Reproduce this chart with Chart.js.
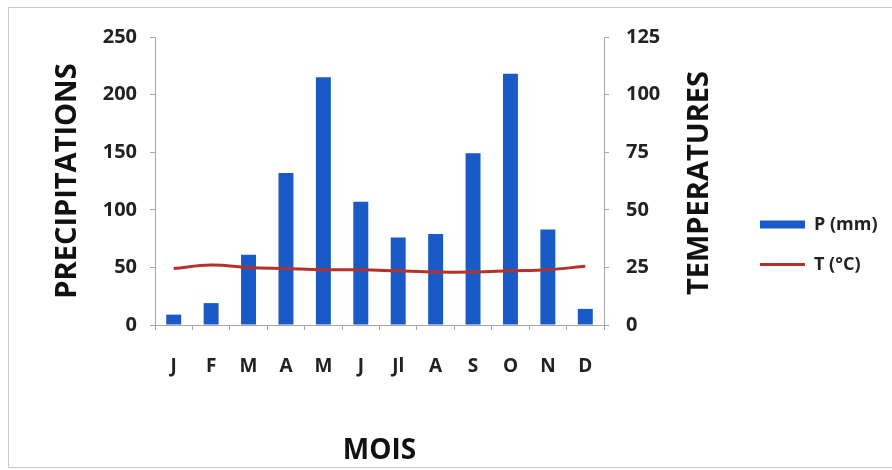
<!DOCTYPE html>
<html>
<head>
<meta charset="utf-8">
<script src="https://cdn.jsdelivr.net/npm/chart.js@4"></script>
<style>
    html, body { margin: 0; background: #fff; overflow: hidden; width: 892px; height: 470px; }
    #frame {
        position: absolute; left: 8px; top: 7px; width: 900px; height: 459px;
        border: 1px solid #c9c9c9; background: #fff;
    }
    #wrap { position: absolute; left: 0; top: 0; width: 892px; height: 470px; }
</style>
</head>
<body>
<div id="frame"></div>
<div id="wrap"><canvas id="climChart" width="892" height="470"></canvas></div>
<script>
// Diagramme ombrothermique
const months = ['J', 'F', 'M', 'A', 'M', 'J', 'Jl', 'A', 'S', 'O', 'N', 'D'];
const precip = [9, 19, 61, 132, 215, 107, 76, 79, 149, 218, 83, 14];
const temps = [24.5, 26, 25, 24.5, 24, 24, 23.5, 23, 23, 23.5, 24, 25.5];
const precipTicks = [0, 50, 100, 150, 200, 250];
const tempTicks = [0, 25, 50, 75, 100, 125];

const FONT = "'Open Sans', 'Liberation Sans', sans-serif";
const axisGray = '#a6a6a6';

// right axis title reads bottom-to-top like the left one,
// and the legend sits a little higher than the centre of its box
const extras = {
    id: 'extras',
    beforeDraw(chart) {
        chart.legend.top = 28;
        chart.legend.bottom = 461;
    },
    afterDraw(chart) {
        const { ctx, chartArea, scales } = chart;
        ctx.save();
        ctx.translate(scales.y1.left + 96, (chartArea.top + chartArea.bottom) / 2 + 2);
        ctx.rotate(-Math.PI / 2);
        ctx.font = 'bold 29px ' + FONT;
        ctx.fillStyle = '#111';
        ctx.textAlign = 'center';
        ctx.textBaseline = 'middle';
        ctx.fillText('TEMPERATURES', 0, 0);
        ctx.restore();
    },
};

new Chart(document.getElementById('climChart'), {
    data: {
        labels: months,
        datasets: [
            {
                type: 'bar',
                label: 'P (mm)',
                data: precip,
                yAxisID: 'y',
                backgroundColor: '#1a5ac7',
                barPercentage: 0.4,
                categoryPercentage: 1,
                pointStyle: 'rect',
                order: 2,
            },
            {
                type: 'line',
                label: 'T (°C)',
                data: temps,
                yAxisID: 'y1',
                borderColor: '#b5322c',
                backgroundColor: '#b5322c',
                borderWidth: 3,
                pointRadius: 0,
                tension: 0.4,
                pointStyle: 'line',
                order: 1,
            },
        ],
    },
    options: {
        responsive: false,
        animation: false,
        layout: { padding: { left: 43, top: 37, right: 15, bottom: 0 } },
        plugins: {
            tooltip: { enabled: false },
            legend: {
                position: 'right',
                labels: {
                    usePointStyle: true,
                    pointStyleWidth: 45,
                    boxHeight: 8,
                    padding: 22,
                    color: '#222',
                    font: { family: FONT, size: 18, weight: 'bold' },
                    sort: (a, b) => a.datasetIndex - b.datasetIndex,
                },
            },
        },
        scales: {
            x: {
                afterFit: s => { s.height = 145; },
                grid: { drawOnChartArea: false, tickLength: 5, color: axisGray },
                border: { color: axisGray },
                ticks: { color: '#222', padding: 25, font: { family: FONT, size: 19, weight: 'bold' } },
                title: {
                    display: true, text: 'MOIS', color: '#111',
                    padding: { top: 0, bottom: 2 },
                    font: { family: FONT, size: 28, weight: 'bold' },
                },
            },
            y: {
                position: 'left',
                min: 0, max: 250,
                afterBuildTicks: s => { s.ticks = precipTicks.map(v => ({ value: v })); },
                afterFit: s => { s.width = 112; },
                grid: { drawOnChartArea: false, tickLength: 5, color: axisGray },
                border: { color: axisGray },
                ticks: { color: '#222', padding: 13, font: { family: FONT, size: 20, weight: 'bold' } },
                title: {
                    display: true, text: 'PRECIPITATIONS', color: '#111',
                    padding: { top: 7, bottom: 0 },
                    font: { family: FONT, size: 29, weight: 'bold' },
                },
            },
            y1: {
                position: 'right',
                min: 0, max: 125,
                afterBuildTicks: s => { s.ticks = tempTicks.map(v => ({ value: v })); },
                afterFit: s => { s.width = 134; },
                grid: { drawOnChartArea: false, tickLength: 5, color: axisGray },
                border: { color: axisGray },
                ticks: { color: '#222', padding: 17, font: { family: FONT, size: 20, weight: 'bold' } },
            },
        },
    },
    plugins: [extras],
});
</script>
</body>
</html>
